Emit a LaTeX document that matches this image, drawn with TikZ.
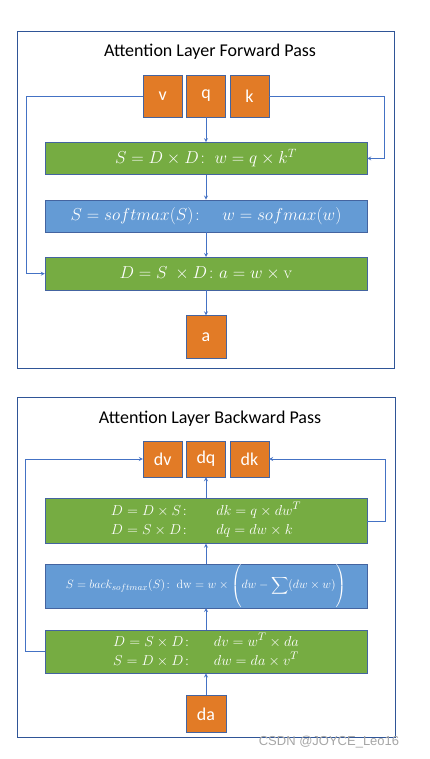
\documentclass[tikz,border=0pt]{standalone}
\usepackage{amsmath}
\usepackage[no-math]{fontspec}
\setmainfont{Carlito}
\newfontfamily\markfont{Liberation Sans}
\usepackage{xcolor}
\definecolor{frameblue}{RGB}{47,85,151}
\definecolor{edgeblue}{RGB}{68,100,160}
\definecolor{arrowblue}{RGB}{68,114,196}
\definecolor{inorange}{RGB}{226,123,38}
\definecolor{opgreen}{RGB}{118,172,66}
\definecolor{opblue}{RGB}{100,155,213}
\usetikzlibrary{arrows,positioning,calc}

\begin{document}
\begin{tikzpicture}[
        x=1pt, y=-1pt,
        frame/.style={draw=frameblue, line width=0.7pt},
        title/.style={font=\fontsize{18}{20}\selectfont},
        tensor/.style={rectangle, draw=edgeblue, fill=inorange, text=white,
                    minimum width=39pt, minimum height=42pt, inner sep=0pt,
                    font=\fontsize{18}{18}\selectfont},
        op/.style={rectangle, draw=edgeblue, fill=opgreen, text=white,
                    minimum width=322pt, minimum height=32pt, inner sep=0pt,
                    align=center, font=\fontsize{17}{20}\selectfont},
        arrow/.style={->, >=stealth, line width=0.8pt, arrowblue}
    ]
        \useasboundingbox (0,0) rectangle (429,759);

        % forward pass
        \draw[frame] (17,31) rectangle (394,368);
        \node[title] (ftitle) at (210,52) {Attention Layer Forward Pass};

        \node[tensor] (q) at (206,96) {q};
        \node[tensor, left=4pt of q]  (v) {v};
        \node[tensor, right=4pt of q] (k) {k};
        \node[op, below=25pt of q] (fqk)
            {$S = D \times D\colon\ w = q \times k^T$};
        \node[op, below=25pt of fqk, fill=opblue] (fsm)
            {$S = softmax(S)\colon\quad w = sofmax(w)$};
        \node[op, below=25pt of fsm, minimum height=33pt] (fwv)
            {$D = S\ \times D\colon a = w \times \mathrm{v}$};
        \node[tensor, below=25pt of fwv, minimum width=40pt, minimum height=43pt] (a) {a};

        \draw[arrow] (q)   -- (fqk);
        \draw[arrow] (fqk) -- (fsm);
        \draw[arrow] (fsm) -- (fwv);
        \draw[arrow] (fwv) -- (a);
        \draw[arrow] (v.west) -| ([xshift=-18pt]fwv.west) -- (fwv.west);
        \draw[arrow] (k.east) -| ([xshift=17pt]fqk.east) -- (fqk.east);

        % backward pass
        \draw[frame] (17,397) rectangle (395,737);
        \node[title] (btitle) at (210,419) {Attention Layer Backward Pass};

        \node[tensor, minimum height=36pt] (dq) at (206,459) {dq};
        \node[tensor, minimum height=36pt, left=4pt of dq]  (dv) {dv};
        \node[tensor, minimum height=36pt, right=4pt of dq] (dk) {dk};
        \node[op, below=21pt of dq, minimum height=45pt,
              font=\fontsize{15.5}{19}\selectfont] (bqk)
            {$\begin{array}{r@{\hspace{1.6em}}l}
                D = D \times S\colon & dk = q \times dw^T\\
                D = S \times D\colon & dq = dw \times k
             \end{array}$};
        \node[op, below=20pt of bqk, fill=opblue, minimum height=44pt,
              font=\fontsize{12.5}{14}\selectfont] (bsm)
            {$S = back_{softmax}(S)\colon\ \mathrm{dw} = w \times
              \left(\rule[-17pt]{0pt}{38pt} dw - \displaystyle\sum (dw \times w)\right)$};
        \node[op, below=22pt of bsm, minimum height=43pt,
              font=\fontsize{15.5}{19}\selectfont] (bwv)
            {$\begin{array}{r@{\hspace{1.3em}}l}
                D = S \times D\colon & dv = w^T \times da\\
                S = D \times D\colon & dw = da \times v^T
             \end{array}$};
        \node[tensor, below=22pt of bwv, minimum width=40pt, minimum height=37pt] (da) {da};

        \draw[arrow] (da)  -- (bwv);
        \draw[arrow] (bwv) -- (bsm);
        \draw[arrow] (bsm) -- (bqk);
        \draw[arrow] (bqk) -- (dq);
        \draw[arrow] (bwv.west) -- ++(-19,0) |- (dv.west);
        \draw[arrow] (bqk.east) -- ++(18,0) |- (dk.east);

        \node[font=\markfont\fontsize{13}{13}\selectfont, text=black!35] (mark)
            at (329,742) {CSDN @JOYCE\_Leo16};
    \end{tikzpicture}
\end{document}
